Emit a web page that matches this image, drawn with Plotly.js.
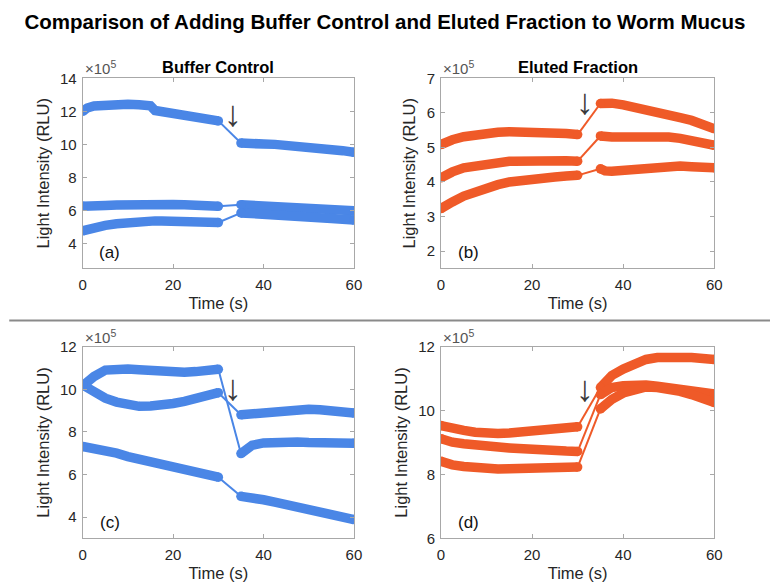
<!DOCTYPE html>
<html><head><meta charset="utf-8">
<script src="https://cdn.plot.ly/plotly-3.0.1.min.js"></script>
<style>html,body{margin:0;padding:0;background:#fff}#chart{width:770px;height:582px}</style>
</head><body><div id="chart"></div>
<script>
// time samples (s) before and after the addition (gap 30-35 s)
const timePre  = [0, 1, 2.5, 5, 7.5, 10, 12.5, 15, 16, 17.5, 20, 22.5, 25, 27.5, 30];
const timePost = [35, 36, 37.5, 40, 42.5, 45, 47.5, 50, 52.5, 55, 57.5, 60];

// (a) Buffer Control, top row (x1e5 RLU)
const a1Pre  = [12.0, 12.2, 12.32, 12.4, 12.45, 12.43, 12.4, 12.33, 12.05, 11.98, 11.9, 11.8, 11.7, 11.58, 11.42];
const a1Post = [10.08, 10.05, 10.04, 10.02, 10.0, 9.96, 9.9, 9.83, 9.77, 9.7, 9.62, 9.52];
const a2Pre  = [6.26, 6.25, 6.27, 6.3, 6.33, 6.36, 6.38, 6.38, 6.38, 6.37, 6.36, 6.35, 6.33, 6.3, 6.25];
const a2Post = [6.35, 6.34, 6.32, 6.3, 6.27, 6.24, 6.2, 6.16, 6.12, 6.08, 6.03, 5.98];
const a3Pre  = [4.77, 4.85, 4.97, 5.1, 5.2, 5.28, 5.33, 5.36, 5.37, 5.37, 5.37, 5.36, 5.34, 5.31, 5.27];
const a3Post = [5.85, 5.84, 5.82, 5.79, 5.75, 5.71, 5.67, 5.62, 5.57, 5.52, 5.47, 5.42];

// (b) Eluted Fraction, top row
const b1Pre  = [5.08, 5.15, 5.22, 5.31, 5.37, 5.41, 5.44, 5.45, 5.45, 5.45, 5.45, 5.44, 5.42, 5.4, 5.37];
const b1Post = [6.27, 6.28, 6.28, 6.23, 6.17, 6.1, 6.02, 5.94, 5.86, 5.78, 5.67, 5.54];
const b2Pre  = [4.12, 4.2, 4.29, 4.41, 4.47, 4.52, 4.56, 4.6, 4.6, 4.61, 4.62, 4.62, 4.62, 4.61, 4.6];
const b2Post = [5.33, 5.31, 5.3, 5.3, 5.31, 5.32, 5.31, 5.3, 5.26, 5.2, 5.14, 5.06];
const b3Pre  = [3.23, 3.32, 3.42, 3.59, 3.72, 3.83, 3.92, 4.0, 4.02, 4.05, 4.09, 4.12, 4.14, 4.17, 4.19];
const b3Post = [4.38, 4.32, 4.31, 4.34, 4.38, 4.41, 4.44, 4.46, 4.46, 4.44, 4.43, 4.41];

// (c) Buffer Control, bottom row
const c1Pre  = [10.16, 10.35, 10.6, 10.9, 10.98, 10.95, 10.92, 10.88, 10.86, 10.84, 10.8, 10.8, 10.83, 10.88, 10.94];
const c1Post = [6.98, 7.2, 7.37, 7.48, 7.52, 7.53, 7.52, 7.5, 7.48, 7.47, 7.47, 7.47];
const c2Pre  = [10.2, 10.05, 9.85, 9.58, 9.4, 9.27, 9.2, 9.21, 9.22, 9.26, 9.33, 9.43, 9.55, 9.7, 9.84];
const c2Post = [8.8, 8.82, 8.86, 8.95, 9.0, 9.03, 9.05, 9.06, 9.04, 9.0, 8.95, 8.88];
const c3Pre  = [7.31, 7.28, 7.23, 7.15, 7.0, 6.84, 6.72, 6.6, 6.56, 6.49, 6.37, 6.25, 6.12, 6.0, 5.87];
const c3Post = [4.97, 4.95, 4.9, 4.81, 4.7, 4.58, 4.48, 4.38, 4.25, 4.11, 4.0, 3.88];

// (d) Eluted Fraction, bottom row
const d1Pre  = [9.53, 9.49, 9.44, 9.38, 9.32, 9.28, 9.28, 9.3, 9.31, 9.32, 9.35, 9.38, 9.4, 9.44, 9.49];
const d1Post = [10.72, 10.88, 11.1, 11.3, 11.48, 11.6, 11.66, 11.68, 11.68, 11.66, 11.63, 11.6];
const d2Pre  = [9.12, 9.07, 9.01, 8.96, 8.91, 8.88, 8.85, 8.83, 8.82, 8.8, 8.77, 8.75, 8.74, 8.73, 8.72];
const d2Post = [10.5, 10.62, 10.72, 10.78, 10.8, 10.8, 10.76, 10.72, 10.68, 10.65, 10.58, 10.52];
const d3Pre  = [8.41, 8.36, 8.3, 8.25, 8.2, 8.18, 8.17, 8.18, 8.18, 8.19, 8.2, 8.21, 8.22, 8.22, 8.23];
const d3Post = [10.05, 10.18, 10.35, 10.55, 10.68, 10.74, 10.72, 10.68, 10.6, 10.5, 10.38, 10.25];

const titleMain = 'Comparison of Adding Buffer Control and Eluted Fraction to Worm Mucus';
const panelTitles = ['Buffer Control', 'Eluted Fraction'];
const panelLabels = ['(a)', '(b)', '(c)', '(d)'];
const xTickVals = [0, 20, 40, 60];

const BLUE = '#4a86e6';
const ORANGE = '#ef5a28';
const FONT = 'Liberation Sans, Arial, Helvetica, sans-serif';

function endMarkers(n) {
  const s = [];
  for (let i = 0; i < n; i++) s.push(i === 0 || i === n - 1 ? 9.5 : 0);
  return s;
}
function seriesTraces(pre, post, color, xa, ya) {
  const n = pre.length - 1;
  return [
    {x: [timePre[n], timePost[0]], y: [pre[n], post[0]], mode: 'lines', line: {color: color, width: 2}, xaxis: xa, yaxis: ya},
    {x: timePre, y: pre, mode: 'lines+markers', line: {color: color, width: 9.5},
      marker: {color: color, opacity: 1, size: endMarkers(timePre.length), line: {width: 0}}, xaxis: xa, yaxis: ya},
    {x: timePost, y: post, mode: 'lines+markers', line: {color: color, width: 9.5},
      marker: {color: color, opacity: 1, size: endMarkers(timePost.length), line: {width: 0}}, xaxis: xa, yaxis: ya}
  ];
}

const data = [].concat(
  seriesTraces(a1Pre, a1Post, BLUE, 'x', 'y'),
  seriesTraces(a2Pre, a2Post, BLUE, 'x', 'y'),
  seriesTraces(a3Pre, a3Post, BLUE, 'x', 'y'),
  seriesTraces(b1Pre, b1Post, ORANGE, 'x2', 'y2'),
  seriesTraces(b2Pre, b2Post, ORANGE, 'x2', 'y2'),
  seriesTraces(b3Pre, b3Post, ORANGE, 'x2', 'y2'),
  seriesTraces(c1Pre, c1Post, BLUE, 'x3', 'y3'),
  seriesTraces(c2Pre, c2Post, BLUE, 'x3', 'y3'),
  seriesTraces(c3Pre, c3Post, BLUE, 'x3', 'y3'),
  seriesTraces(d1Pre, d1Post, ORANGE, 'x4', 'y4'),
  seriesTraces(d2Pre, d2Post, ORANGE, 'x4', 'y4'),
  seriesTraces(d3Pre, d3Post, ORANGE, 'x4', 'y4')
);

const axisCommon = {
  showline: true, linecolor: '#a8a8a8', linewidth: 1, mirror: 'ticks',
  ticks: 'inside', ticklen: 4, tickcolor: '#a8a8a8', showgrid: false, zeroline: false,
  tickfont: {family: FONT, size: 15, color: '#262626'}
};
function xAxis(domain, anchor) {
  return Object.assign({}, axisCommon, {domain: domain, anchor: anchor, range: [0, 60], tickvals: xTickVals,
    ticklabelstandoff: 3,
    title: {text: 'Time (s)', font: {family: FONT, size: 16.5, color: '#262626'}, standoff: 5}});
}
function yAxis(domain, anchor, range, dtick) {
  return Object.assign({}, axisCommon, {domain: domain, anchor: anchor, range: range, dtick: dtick,
    ticklabelstandoff: 2,
    title: {text: 'Light Intensity (RLU)', font: {family: FONT, size: 16.5, color: '#262626'}, standoff: 6}});
}

const xL = [0.1074, 0.4597], xR = [0.5727, 0.9277];
const yT = [0.539, 0.8655], yB = [0.0751, 0.4043];

const annotations = [];
const axPairs = [['x', 'y'], ['x2', 'y2'], ['x3', 'y3'], ['x4', 'y4']];
axPairs.forEach(function (p, i) {
  annotations.push({xref: p[0] + ' domain', yref: p[1] + ' domain', x: 0.0, y: 1.0, xanchor: 'left', yanchor: 'bottom',
    yshift: -1, text: '×10<sup>5</sup>', showarrow: false, font: {family: FONT, size: 15, color: '#555'}});
  annotations.push({xref: p[0] + ' domain', yref: p[1] + ' domain', x: 0.1, y: 0.085, xanchor: 'center', yanchor: 'middle',
    text: panelLabels[i], showarrow: false, font: {family: FONT, size: 17, color: '#111'}});
});
// arrows marking the addition
const arrowX = [33.2, 31.6, 33.2, 31.6];
const arrowY = [11.85, 6.32, 10.08, 10.68];
axPairs.forEach(function (p, i) {
  annotations.push({xref: p[0], yref: p[1], x: arrowX[i], y: arrowY[i], text: '↓', showarrow: false,
    font: {family: FONT, size: 36, color: '#3a3a3a'}});
});
annotations.push({xref: 'x domain', yref: 'y domain', x: 0.5, y: 1.0, yanchor: 'bottom', yshift: 0,
  text: '<b>' + panelTitles[0] + '</b>', showarrow: false, font: {family: FONT, size: 16.5, color: '#000'}});
annotations.push({xref: 'x2 domain', yref: 'y2 domain', x: 0.5, y: 1.0, yanchor: 'bottom', yshift: 0,
  text: '<b>' + panelTitles[1] + '</b>', showarrow: false, font: {family: FONT, size: 16.5, color: '#000'}});

const layout = {
  width: 770, height: 582,
  margin: {l: 0, r: 0, t: 0, b: 0},
  paper_bgcolor: '#fff', plot_bgcolor: '#fff',
  showlegend: false,
  title: {text: '<b>' + titleMain + '</b>', x: 0.5, xanchor: 'center', y: 1 - 22 / 582, yanchor: 'middle',
    font: {family: FONT, size: 20.5, color: '#000'}},
  xaxis: xAxis(xL, 'y'), yaxis: yAxis(yT, 'x', [2.5, 14], 2),
  xaxis2: xAxis(xR, 'y2'), yaxis2: yAxis(yT, 'x2', [1.5, 7], 1),
  xaxis3: xAxis(xL, 'y3'), yaxis3: yAxis(yB, 'x3', [3, 12], 2),
  xaxis4: xAxis(xR, 'y4'), yaxis4: yAxis(yB, 'x4', [6, 12], 2),
  annotations: annotations,
  shapes: [{type: 'line', xref: 'paper', yref: 'paper', x0: 0.012, x1: 1, y0: 1 - 320.5 / 582, y1: 1 - 320.5 / 582,
    line: {color: '#8a8a8a', width: 2}}]
};

Plotly.newPlot('chart', data, layout, {staticPlot: true, displayModeBar: false});
</script>
</body></html>
